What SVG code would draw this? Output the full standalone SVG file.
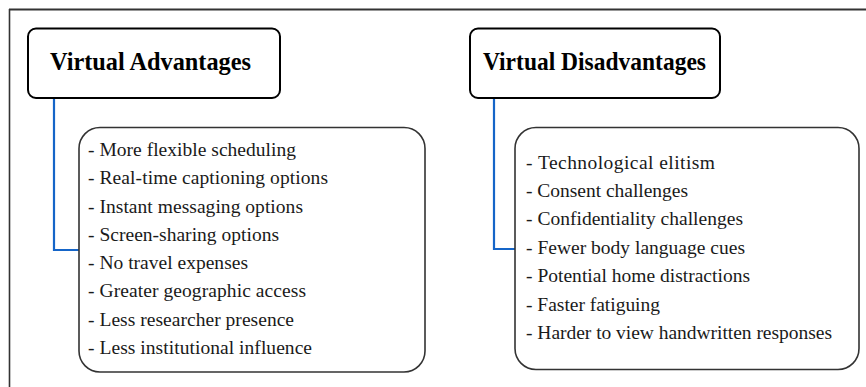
<svg xmlns="http://www.w3.org/2000/svg" width="866" height="387" viewBox="0 0 866 387">
<style>
.frame{stroke:#333;fill:none}
.title{fill:#fff;stroke:#000;stroke-width:2}
.list{fill:#fff;stroke:#333;stroke-width:1.6}
.tt{font-family:"Liberation Serif","Times New Roman",serif;font-weight:bold;font-size:25px;fill:#000}
.it{font-family:"Liberation Serif","Times New Roman",serif;font-size:19.5px;fill:#1a1a1a}
.conn{stroke:#1565c8;stroke-width:2.2;fill:none}
</style>
<rect width="866" height="387" fill="#fff"/>
<g id="frame">
<line class="frame" x1="9" y1="9.5" x2="866" y2="9.5" stroke-width="2.2"/>
<line class="frame" x1="9.5" y1="9" x2="9.5" y2="387" stroke-width="1.6"/>
</g>
<g id="connectors">
<polyline class="conn" points="54,98 54,250 79,250"/>
<polyline class="conn" points="494,98 494,249 515,249"/>
</g>
<g id="adv-title">
<rect class="title" x="28" y="28.5" width="252" height="69.5" rx="8"/>
<text class="tt" x="50" y="70" textLength="201" lengthAdjust="spacingAndGlyphs">Virtual Advantages</text>
</g>
<g id="dis-title">
<rect class="title" x="470" y="28.5" width="250" height="69.5" rx="8"/>
<text class="tt" x="483" y="70" textLength="223" lengthAdjust="spacingAndGlyphs">Virtual Disadvantages</text>
</g>
<g id="adv-list">
<rect class="list" x="79" y="127.5" width="346" height="244.5" rx="21"/>
<text class="it" x="88" y="156" textLength="208">- More flexible scheduling</text>
<text class="it" x="88" y="184" textLength="240">- Real-time captioning options</text>
<text class="it" x="88" y="213" textLength="215">- Instant messaging options</text>
<text class="it" x="88" y="241" textLength="191">- Screen-sharing options</text>
<text class="it" x="88" y="269" textLength="160">- No travel expenses</text>
<text class="it" x="88" y="297" textLength="218">- Greater geographic access</text>
<text class="it" x="88" y="326" textLength="206">- Less researcher presence</text>
<text class="it" x="88" y="354" textLength="224">- Less institutional influence</text>
</g>
<g id="dis-list">
<rect class="list" x="515" y="127.5" width="344" height="242" rx="21"/>
<text class="it" x="526" y="169" textLength="189">- Technological elitism</text>
<text class="it" x="526" y="197" textLength="162">- Consent challenges</text>
<text class="it" x="526" y="225" textLength="217">- Confidentiality challenges</text>
<text class="it" x="526" y="254" textLength="219">- Fewer body language cues</text>
<text class="it" x="526" y="282" textLength="224">- Potential home distractions</text>
<text class="it" x="526" y="311" textLength="134">- Faster fatiguing</text>
<text class="it" x="526" y="339" textLength="306">- Harder to view handwritten responses</text>
</g>
</svg>
